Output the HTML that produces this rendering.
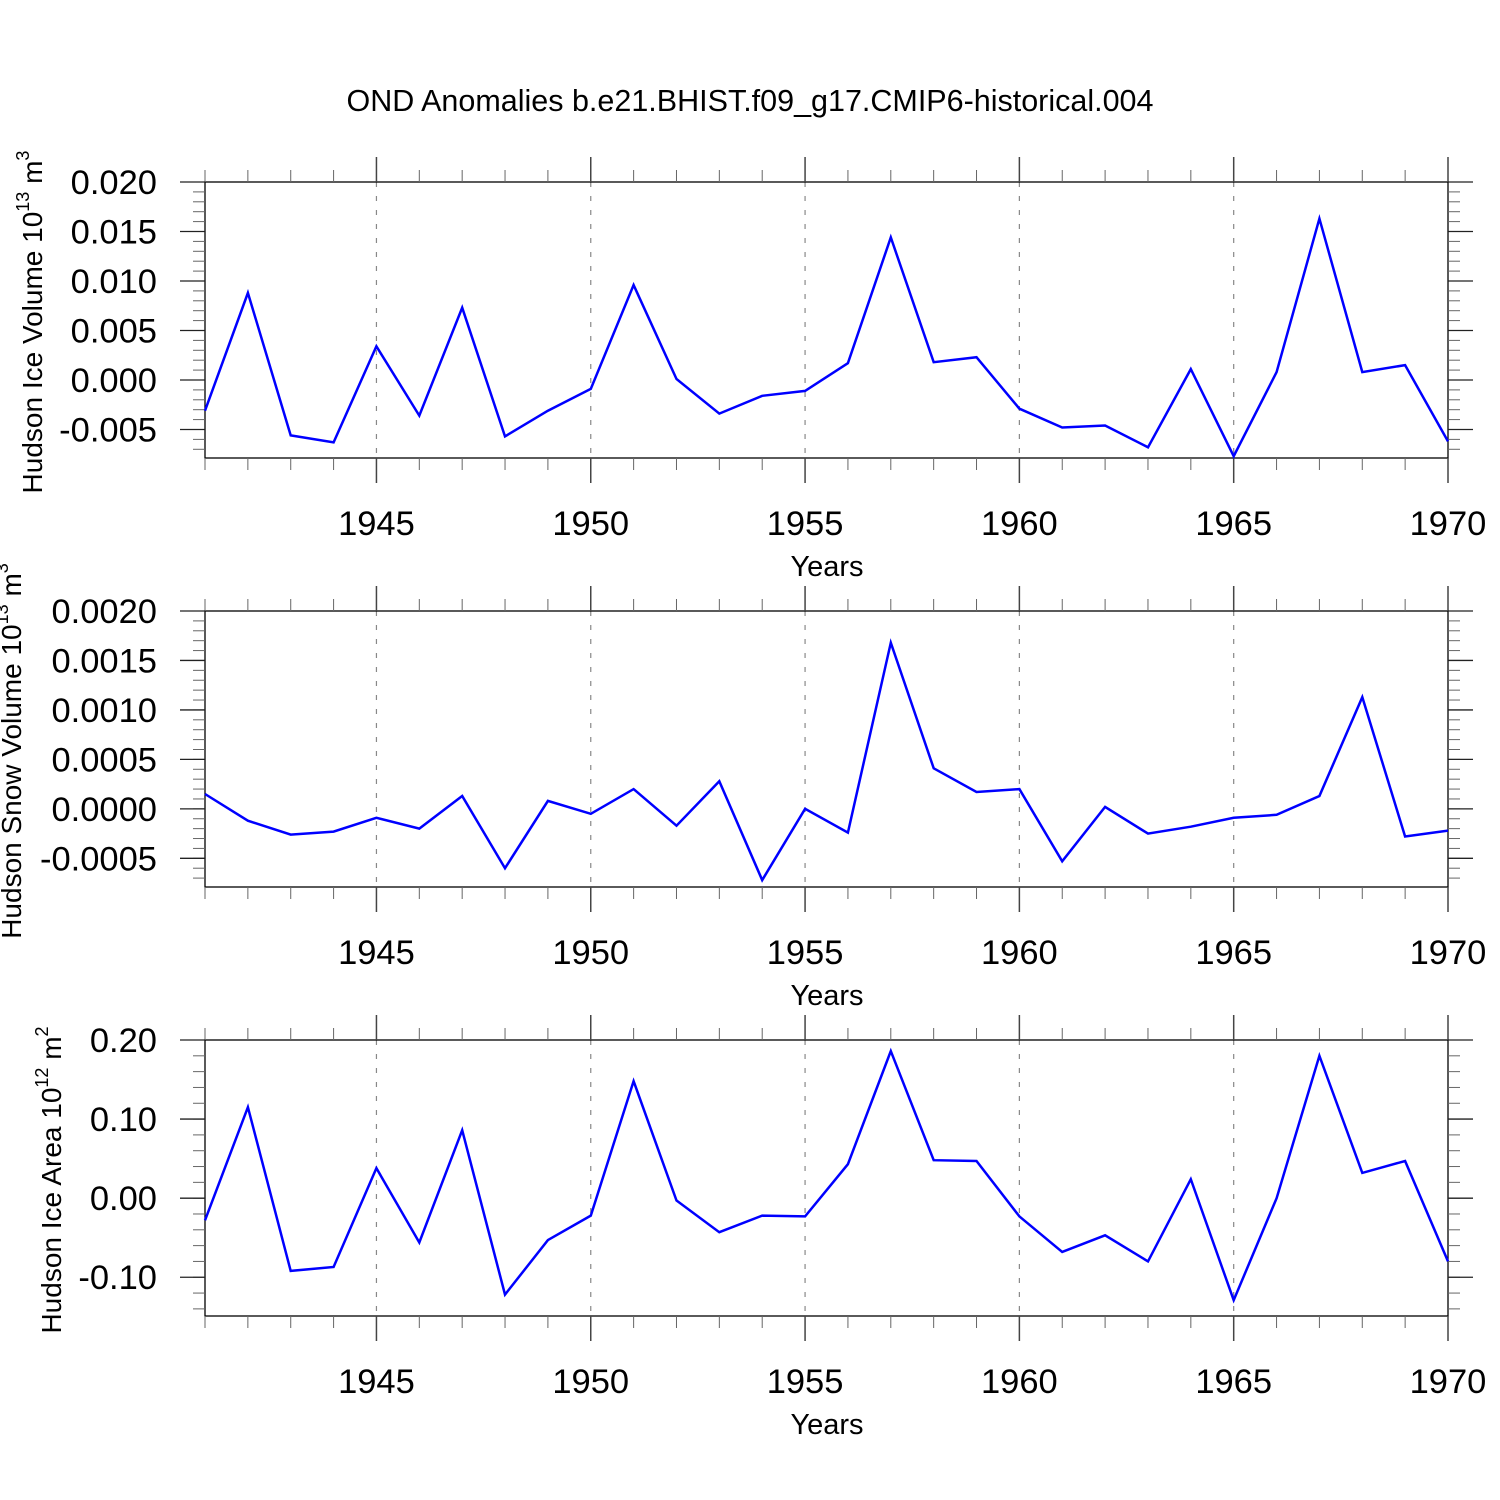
<!DOCTYPE html>
<html><head><meta charset="utf-8"><style>
html,body{margin:0;padding:0;background:#fff;}
svg{display:block;font-family:"Liberation Sans",sans-serif;}
</style></head><body>
<svg id="chart" width="1500" height="1500" viewBox="0 0 1500 1500" xmlns="http://www.w3.org/2000/svg">
<rect width="1500" height="1500" fill="#fff"/>
<text x="750" y="111" font-size="30.5" text-anchor="middle">OND Anomalies b.e21.BHIST.f09_g17.CMIP6-historical.004</text>
</svg>
<script>
const years = [1941,1942,1943,1944,1945,1946,1947,1948,1949,1950,1951,1952,1953,1954,1955,1956,1957,1958,1959,1960,1961,1962,1963,1964,1965,1966,1967,1968,1969,1970];
const iceVolume = [-0.0031,0.0088,-0.0056,-0.0063,0.0034,-0.0036,0.0073,-0.0057,-0.0031,-0.0009,0.0096,0.0001,-0.0034,-0.0016,-0.0011,0.0017,0.0144,0.0018,0.0023,-0.0029,-0.0048,-0.0046,-0.0068,0.0011,-0.0077,0.0008,0.0163,0.0008,0.0015,-0.0062];
const snowVolume = [0.00015,-0.00012,-0.00026,-0.00023,-0.00009,-0.0002,0.00013,-0.0006,0.00008,-0.00005,0.0002,-0.00017,0.00028,-0.00072,0.0,-0.00024,0.00168,0.00041,0.00017,0.0002,-0.00053,0.00002,-0.00025,-0.00018,-0.00009,-0.00006,0.00013,0.00113,-0.00028,-0.00022];
const iceArea = [-0.028,0.115,-0.092,-0.087,0.038,-0.056,0.086,-0.122,-0.053,-0.022,0.148,-0.003,-0.043,-0.022,-0.023,0.043,0.186,0.048,0.047,-0.023,-0.068,-0.047,-0.080,0.024,-0.129,0.0,0.180,0.032,0.047,-0.080];
const xTickLabels = ["1945","1950","1955","1960","1965","1970"];
const ticks1 = ["-0.005","0.000","0.005","0.010","0.015","0.020"];
const ticks2 = ["-0.0005","0.0000","0.0005","0.0010","0.0015","0.0020"];
const ticks3 = ["-0.10","0.00","0.10","0.20"];

const svg = document.getElementById('chart');
const NS = 'http://www.w3.org/2000/svg';
function mk(tag, attrs, parent){const e=document.createElementNS(NS,tag);for(const k in attrs)e.setAttribute(k,attrs[k]);(parent||svg).appendChild(e);return e;}

const X0=205, X1=1448, YMIN=1941, YMAX=1970;
function xs(y){return X0+(y-YMIN)/(YMAX-YMIN)*(X1-X0);}

const panels = [
 {name:'ice-volume',top:182,bot:458,vmin:-0.00788,vmax:0.020,ticks:ticks1,minor:0.001,vals:iceVolume,label:'Hudson Ice Volume 10',sup:'13',unit:' m',usup:'3',lx:42,fs:28},
 {name:'snow-volume',top:611,bot:887,vmin:-0.00079,vmax:0.0020,ticks:ticks2,minor:0.0001,vals:snowVolume,label:'Hudson Snow Volume 10',sup:'13',unit:' m',usup:'3',lx:21,fs:28},
 {name:'ice-area',top:1040,bot:1316,vmin:-0.149,vmax:0.20,ticks:ticks3,minor:0.02,vals:iceArea,label:'Hudson Ice Area 10',sup:'12',unit:' m',usup:'2',lx:61,fs:28}
];

panels.forEach(p=>{
  const g = mk('g',{});
  
  
  const ys = v => p.bot-(v-p.vmin)/(p.vmax-p.vmin)*(p.bot-p.top);
  xTickLabels.forEach(t=>{
    const x=xs(+t);
    if(+t<YMAX){const l=mk('line',{x1:x,x2:x,y1:p.top,y2:p.bot,stroke:'#888','stroke-width':1.2,'stroke-dasharray':'5,9'},g);
    
    }
  });
  mk('rect',{x:X0,y:p.top,width:X1-X0,height:p.bot-p.top,fill:'none',stroke:'#000','stroke-width':1.3},g);
  years.forEach(y=>{
    const x=xs(y), major=(y%5===0);
    const L=major?25:12;
    mk('line',{x1:x,x2:x,y1:p.top-L,y2:p.top,stroke:major?'#444':'#666','stroke-width':major?1.5:1},g);
    mk('line',{x1:x,x2:x,y1:p.bot,y2:p.bot+L,stroke:major?'#444':'#666','stroke-width':major?1.5:1},g);
  });
  xTickLabels.forEach(t=>{
    const tx=mk('text',{x:xs(+t),y:p.bot+77,'font-size':34.5,'text-anchor':'middle'},g);
    tx.textContent=t;
    
    
  });
  const xt=mk('text',{x:827,y:p.bot+118,'font-size':29,'text-anchor':'middle'},g);
  xt.textContent='Years';
  
  
  const nmin=Math.ceil(p.vmin/p.minor-1e-6), nmax=Math.floor(p.vmax/p.minor+1e-6);
  for(let i=nmin;i<=nmax;i++){
    const y=ys(i*p.minor);
    mk('line',{x1:X0-12,x2:X0,y1:y,y2:y,stroke:'#666','stroke-width':1},g);
    mk('line',{x1:X1,x2:X1+12,y1:y,y2:y,stroke:'#666','stroke-width':1},g);
  }
  p.ticks.forEach(t=>{
    const y=ys(+t);
    mk('line',{x1:X0-25,x2:X0,y1:y,y2:y,stroke:'#222','stroke-width':1.3},g);
    mk('line',{x1:X1,x2:X1+25,y1:y,y2:y,stroke:'#222','stroke-width':1.3},g);
    const tx=mk('text',{x:157,y:y+12,'font-size':34.5,'text-anchor':'end'},g);
    tx.textContent=t;
    
    
  });
  const cy=(p.top+p.bot)/2+2;
  const yt=mk('text',{x:0,y:0,'font-size':p.fs,'text-anchor':'middle',transform:`translate(${p.lx},${cy}) rotate(-90)`},g);
  
  
  yt.innerHTML=`${p.label}<tspan font-size="18" dy="-13">${p.sup}</tspan><tspan dy="13">${p.unit}</tspan><tspan font-size="18" dy="-13">${p.usup}</tspan>`;
  const pts=years.map((y,i)=>xs(y).toFixed(1)+','+ys(p.vals[i]).toFixed(1)).join(' ');
  const pl=mk('polyline',{points:pts,fill:'none',stroke:'#0000ff','stroke-width':2.5,'stroke-linejoin':'miter'},g);
  
  
});
</script>
</body></html>
